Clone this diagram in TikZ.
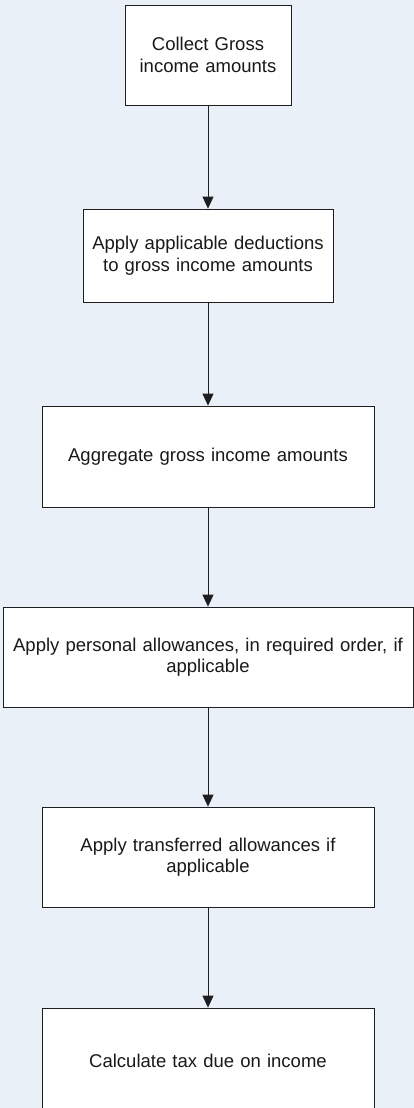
\documentclass[tikz,border=0pt]{standalone}
\usepackage{fontspec}
\setmainfont{Liberation Sans}
\usetikzlibrary{positioning,arrows.meta}
\definecolor{pagebg}{RGB}{234,240,248}
\definecolor{edge}{RGB}{30,30,30}

\begin{document}
\begin{tikzpicture}[x=1pt,y=-1pt,>=Latex,
  procbox/.style={draw=edge, line width=0.8pt, fill=white, align=center,
    inner sep=0pt, font=\fontsize{18.5}{21.5}\selectfont, text=black!90},
  flowarr/.style={draw=edge, line width=0.8pt, -{Triangle[length=12pt,width=11pt]}}]
  \fill[pagebg] (0,0) rectangle (414,1108);
  \useasboundingbox (0,0) rectangle (414,1108);
  % steps, top to bottom
  \node[procbox, text width=166pt, minimum height=100pt] (collect) at (208,55) {Collect Gross\\income amounts};
  \node[procbox, text width=250pt, minimum height=93pt] (deduct) at (208,255.5) {Apply applicable deductions\\to gross income amounts};
  \node[procbox, text width=332pt, minimum height=101pt] (aggregate) at (208,456.5) {Aggregate gross income amounts};
  \node[procbox, text width=410pt, minimum height=100pt] (personal) at (208,657) {Apply personal allowances, in required order, if\\applicable};
  \node[procbox, text width=332pt, minimum height=100pt] (transfer) at (208,857) {Apply transferred allowances if\\applicable};
  \node[procbox, text width=332pt, minimum height=106pt] (calctax) at (208,1061) {Calculate tax due on income};
  % connectors
  \draw[flowarr] (collect) -- (deduct);
  \draw[flowarr] (deduct) -- (aggregate);
  \draw[flowarr] (aggregate) -- (personal);
  \draw[flowarr] (personal) -- (transfer);
  \draw[flowarr] (transfer) -- (calctax);
\end{tikzpicture}
\end{document}
